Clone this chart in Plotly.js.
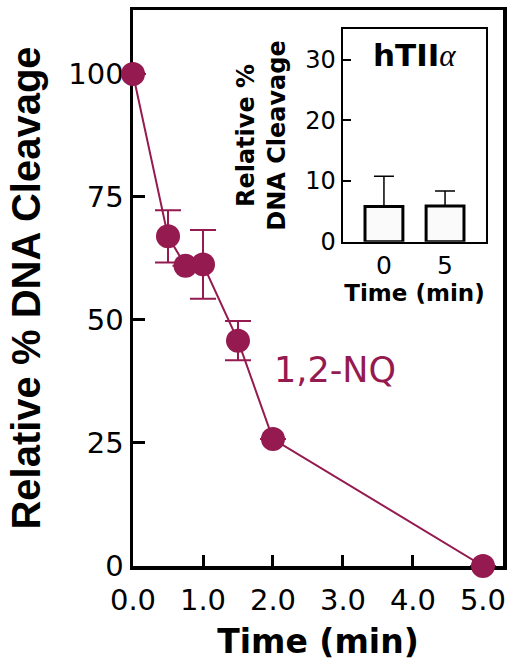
<!DOCTYPE html>
<html>
<head>
<meta charset="utf-8">
<script src="https://cdn.plot.ly/plotly-3.0.1.min.js"></script>
<style>
  html, body { margin: 0; padding: 0; background: #ffffff; }
  #chart { width: 510px; height: 663px; }
</style>
</head>
<body>
<div id="chart"></div>
<script>
// ---- Main series: 1,2-NQ ----
const timeMin = [0, 0.5, 0.75, 1.0, 1.5, 2.0, 5.0];
const cleavagePct = [100, 67, 61, 61.3, 45.8, 25.8, 0];
const cleavageErr = [0, 5.3, 0, 7, 4, 0, 0];
const xTickVals = [0, 1, 2, 3, 4, 5];
const xTickText = ["0.0", "1.0", "2.0", "3.0", "4.0", "5.0"];
const yTickVals = [0, 25, 50, 75, 100];

// ---- Inset: hTIIα ----
const insetTime = ["0", "5"];
const insetPct = [5.8, 5.9];
const insetErrUp = [5.0, 2.45];
const insetErrDown = [0, 0];
const insetTickVals = [0, 10, 20, 30];

const maroon = "#951a4f";
const sans = "DejaVu Sans, sans-serif";
const arial = "Liberation Sans, Arial, sans-serif";

const traces = [
  {
    type: "scatter",
    mode: "lines+markers",
    x: timeMin,
    y: cleavagePct,
    xaxis: "x",
    yaxis: "y",
    line: { color: maroon, width: 2 },
    marker: { color: maroon, size: 24 },
    error_y: { type: "data", array: cleavageErr, visible: true, color: maroon, thickness: 2, width: 13 },
    cliponaxis: false,
    showlegend: false,
    hoverinfo: "skip"
  },
  {
    type: "bar",
    x: insetTime,
    y: insetPct,
    xaxis: "x2",
    yaxis: "y2",
    width: 0.62,
    marker: { color: "#fafafa", line: { color: "#000000", width: 3 } },
    error_y: { type: "data", symmetric: false, array: insetErrUp, arrayminus: insetErrDown, visible: true, color: "#000000", thickness: 1.5, width: 10 },
    showlegend: false,
    hoverinfo: "skip"
  }
];

const layout = {
  width: 510,
  height: 663,
  margin: { l: 133, r: 7, t: 10, b: 97 },
  paper_bgcolor: "#ffffff",
  plot_bgcolor: "#ffffff",
  showlegend: false,
  xaxis: {
    domain: [0, 1],
    range: [0, 5.286],
    tickvals: xTickVals,
    ticktext: xTickText,
    ticks: "inside",
    ticklen: 11,
    tickwidth: 3,
    tickcolor: "#000",
    showline: true,
    linewidth: 3.5,
    linecolor: "#000",
    mirror: true,
    layer: "below traces",
    showgrid: false,
    zeroline: false,
    ticklabelstandoff: 6,
    tickfont: { family: sans, size: 29, color: "#000" },
    title: { text: "Time (min)", font: { family: sans, size: 33, color: "#000", weight: "bold" }, standoff: 14 },
    automargin: false
  },
  yaxis: {
    domain: [0, 1],
    range: [0, 113],
    tickvals: yTickVals,
    ticks: "inside",
    ticklen: 12,
    tickwidth: 3,
    tickcolor: "#000",
    showline: true,
    linewidth: 3.5,
    linecolor: "#000",
    mirror: true,
    layer: "below traces",
    showgrid: false,
    zeroline: false,
    tickfont: { family: sans, size: 29, color: "#000" },
    title: { text: "Relative % DNA Cleavage", font: { family: arial, size: 40, color: "#000", weight: "bold" }, standoff: 16 },
    automargin: false
  },
  xaxis2: {
    domain: [0.5676, 0.954],
    anchor: "y2",
    type: "category",
    range: [-0.67, 1.67],
    ticks: "",
    showline: true,
    linewidth: 2.5,
    linecolor: "#000",
    mirror: true,
    showgrid: false,
    zeroline: false,
    tickfont: { family: sans, size: 25, color: "#000" },
    title: { text: "Time (min)", font: { family: sans, size: 23, color: "#000", weight: "bold" }, standoff: 4 },
    automargin: false
  },
  yaxis2: {
    domain: [0.5833, 0.9653],
    anchor: "x2",
    range: [0, 35],
    tickvals: insetTickVals,
    ticks: "inside",
    ticklen: 8,
    tickwidth: 2,
    tickcolor: "#000",
    showline: true,
    linewidth: 2.5,
    linecolor: "#000",
    mirror: true,
    showgrid: false,
    zeroline: false,
    tickfont: { family: sans, size: 24, color: "#000" },
    title: { text: "Relative %<br>DNA Cleavage", font: { family: sans, size: 24, color: "#000", weight: "bold" }, standoff: 13 },
    automargin: false
  },
  annotations: [
    {
      text: "1,2-NQ",
      xref: "x", yref: "y",
      x: 2.89, y: 39.8,
      showarrow: false,
      font: { family: sans, size: 35, color: maroon },
      xanchor: "center", yanchor: "middle"
    },
    {
      text: "hTII<span style=\"font-family:'Liberation Serif';font-weight:normal\"><i>α</i></span>",
      xref: "x2 domain", yref: "y2 domain",
      x: 0.5, y: 0.88,
      showarrow: false,
      font: { family: sans, size: 31, color: "#000", weight: "bold" },
      xanchor: "center", yanchor: "middle"
    }
  ]
};

Plotly.newPlot("chart", traces, layout, { staticPlot: true, displayModeBar: false });
</script>
</body>
</html>
